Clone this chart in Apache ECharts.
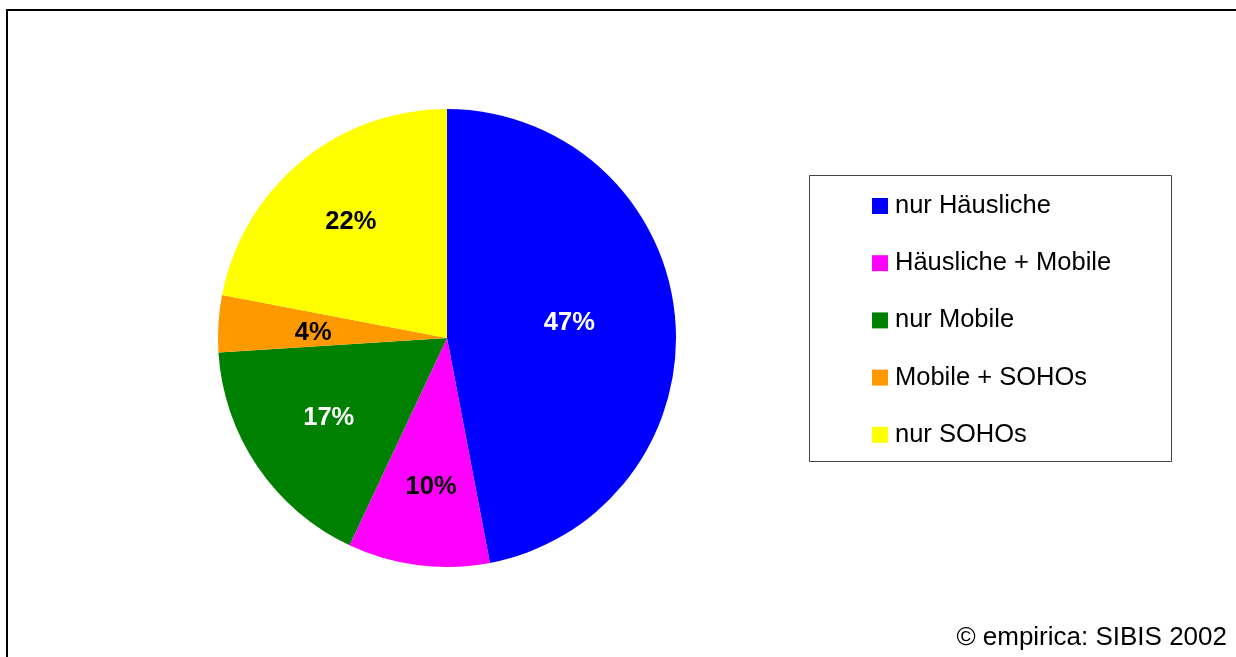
<!DOCTYPE html>
<html>
<head>
<meta charset="utf-8">
<script src="https://cdn.jsdelivr.net/npm/echarts@6/dist/echarts.min.js"></script>
<style>
    html, body { margin: 0; padding: 0; background: #fff; }
    #chart { width: 1236px; height: 657px; }
</style>
</head>
<body>
<div id="chart"></div>
<script>
    // Daten
    var categories = ['nur Häusliche', 'Häusliche + Mobile', 'nur Mobile', 'Mobile + SOHOs', 'nur SOHOs'];
    var shares = [47, 10, 17, 4, 22];
    var sourceText = '© empirica: SIBIS 2002';

    var sliceColors = ['#0000ff', '#ff00ff', '#008000', '#ff9900', '#ffff00'];
    var labelColors = ['#ffffff', '#000000', '#ffffff', '#000000', '#000000'];
    // kleine Korrekturen der Beschriftung (Excel setzt sie nicht genau mittig)
    var labelNudge = [[-20, -2], [2, 7], [0, 0], [9, 4], [-5, -6]];
    var font = '"Liberation Sans", Arial, sans-serif';

    var myChart = echarts.init(document.getElementById('chart'));

    var pieData = categories.map(function (name, i) {
        return {
            name: name,
            value: shares[i],
            itemStyle: { color: sliceColors[i] }
        };
    });

    // zweite, unsichtbare Serie nur fuer die Beschriftung (etwas weiter aussen)
    var labelData = categories.map(function (name, i) {
        return {
            name: name,
            value: shares[i],
            label: { color: labelColors[i], offset: labelNudge[i] }
        };
    });

    var option = {
        animation: false,
        title: {
            text: sourceText,
            right: 9,
            top: 625,
            padding: 0,
            textStyle: { fontFamily: font, fontSize: 26, fontWeight: 'normal', color: '#000' }
        },
        legend: {
            orient: 'vertical',
            left: 872,
            top: 193,
            padding: 0,
            data: categories,
            icon: 'rect',
            itemWidth: 16,
            itemHeight: 16,
            itemGap: 31.2,
            selectedMode: false,
            textStyle: { fontFamily: font, fontSize: 25.5, color: '#000', padding: [0, 0, 0, 2] }
        },
        graphic: [
            {
                type: 'rect',
                shape: { x: 7, y: 10, width: 1240, height: 660 },
                style: { fill: null, stroke: '#000', lineWidth: 2 },
                silent: true
            },
            {
                type: 'rect',
                shape: { x: 809.5, y: 175.5, width: 362, height: 286 },
                style: { fill: null, stroke: '#444', lineWidth: 1 },
                silent: true
            }
        ],
        series: [
            {
                type: 'pie',
                center: [447, 338],
                radius: 229,
                startAngle: 90,
                clockwise: true,
                silent: true,
                label: { show: false },
                labelLine: { show: false },
                itemStyle: { borderWidth: 0 },
                data: pieData
            },
            {
                type: 'pie',
                center: [447, 338],
                radius: [64, 216],
                startAngle: 90,
                clockwise: true,
                silent: true,
                itemStyle: { color: 'rgba(0,0,0,0)', borderWidth: 0 },
                label: {
                    show: true,
                    position: 'inside',
                    formatter: '{c}%',
                    fontFamily: font,
                    fontSize: 25.5,
                    fontWeight: 'bold',
                    textBorderWidth: 0
                },
                labelLine: { show: false },
                data: labelData
            }
        ]
    };

    myChart.setOption(option);
</script>
</body>
</html>
